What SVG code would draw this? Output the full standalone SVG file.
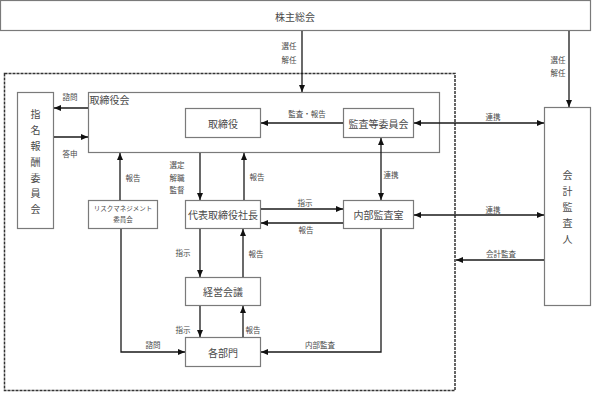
<svg xmlns="http://www.w3.org/2000/svg" width="600" height="399" viewBox="0 0 600 399">
<defs>
<style>
.box{fill:#fff;stroke:#7a7a7a;stroke-width:1.2}
.t{font-family:"Noto Sans CJK JP","Noto Sans CJK SC",sans-serif;fill:#4a4a4a;text-anchor:middle;dominant-baseline:central}
.big{font-size:10px}
.sm{font-size:7.5px}
.xs{font-size:6.5px}
.c{fill:none;stroke:#1a1a1a;stroke-width:1.3}
.dash{fill:none;stroke:#333;stroke-width:1.5;stroke-dasharray:3 1}
</style>
<marker id="ah" markerUnits="userSpaceOnUse" markerWidth="8" markerHeight="7" refX="7" refY="3" orient="auto-start-reverse">
<path d="M0,0 L7,3 L0,6 z" fill="#111"/>
</marker>
</defs>
<rect width="600" height="399" fill="#fff"/>
<rect class="dash" x="4.5" y="73.5" width="450.5" height="317"/>

<g id="n-kabunushi"><rect class="box" x="0.5" y="0.5" width="590" height="30"/><text class="t big" x="295" y="16">株主総会</text></g>
<g id="n-shimei"><rect class="box" x="17.5" y="92.5" width="36" height="136"/>
<text class="t big" x="35.5" y="113">指</text><text class="t big" x="35.5" y="129">名</text><text class="t big" x="35.5" y="145">報</text><text class="t big" x="35.5" y="161">酬</text><text class="t big" x="35.5" y="177">委</text><text class="t big" x="35.5" y="192">員</text><text class="t big" x="35.5" y="208">会</text></g>
<g id="n-torishimariyakukai"><rect class="box" x="88.5" y="92.5" width="351" height="60"/><text class="t big" x="89.5" y="99" style="text-anchor:start">取締役会</text></g>
<g id="n-torishimariyaku"><rect class="box" x="185.5" y="108.5" width="75" height="29"/><text class="t big" x="223" y="123">取締役</text></g>
<g id="n-kansa"><rect class="box" x="343.5" y="108.5" width="70" height="29"/><text class="t big" x="378.5" y="123">監査等委員会</text></g>
<g id="n-kaikei"><rect class="box" x="544.5" y="107.5" width="46" height="198"/>
<text class="t big" x="567.5" y="174">会</text><text class="t big" x="567.5" y="190">計</text><text class="t big" x="567.5" y="206">監</text><text class="t big" x="567.5" y="222">査</text><text class="t big" x="567.5" y="238">人</text></g>
<g id="n-risk"><rect class="box" x="88.5" y="200.5" width="69" height="28"/><text class="t xs" x="123" y="208">リスクマネジメント</text><text class="t xs" x="123" y="219">委員会</text></g>
<g id="n-daihyo"><rect class="box" x="185.5" y="200.5" width="75" height="28"/><text class="t big" x="223" y="214.5">代表取締役社長</text></g>
<g id="n-naibu"><rect class="box" x="343.5" y="200.5" width="70" height="28"/><text class="t big" x="378.5" y="214.5">内部監査室</text></g>
<g id="n-keiei"><rect class="box" x="185.5" y="277.5" width="75" height="28"/><text class="t big" x="223" y="291.5">経営会議</text></g>
<g id="n-kakubumon"><rect class="box" x="185.5" y="337.5" width="75" height="29"/><text class="t big" x="223" y="352">各部門</text></g>

<g id="connectors">
<path class="c" d="M302,31 V92" marker-end="url(#ah)"/>
<path class="c" d="M569,31 V107" marker-end="url(#ah)"/>
<path class="c" d="M88,108 H54" marker-end="url(#ah)"/>
<path class="c" d="M54,137 H88" marker-end="url(#ah)"/>
<path class="c" d="M343,123 H261" marker-end="url(#ah)"/>
<path class="c" d="M414,123 H544" marker-start="url(#ah)" marker-end="url(#ah)"/>
<path class="c" d="M381,138 V200" marker-start="url(#ah)" marker-end="url(#ah)"/>
<path class="c" d="M414,215 H544" marker-start="url(#ah)" marker-end="url(#ah)"/>
<path class="c" d="M544,260 H456" marker-end="url(#ah)"/>
<path class="c" d="M200,153 V200" marker-end="url(#ah)"/>
<path class="c" d="M244,200 V153" marker-end="url(#ah)"/>
<path class="c" d="M120,200 V153" marker-end="url(#ah)"/>
<path class="c" d="M261,209 H343" marker-end="url(#ah)"/>
<path class="c" d="M343,223 H261" marker-end="url(#ah)"/>
<path class="c" d="M200,229 V277" marker-end="url(#ah)"/>
<path class="c" d="M243,277 V229" marker-end="url(#ah)"/>
<path class="c" d="M200,306 V337" marker-end="url(#ah)"/>
<path class="c" d="M243,337 V306" marker-end="url(#ah)"/>
<path class="c" d="M121,229 V352 H185" marker-end="url(#ah)"/>
<path class="c" d="M381,229 V352 H261" marker-end="url(#ah)"/>
</g>

<g id="labels">
<text class="t sm" x="289" y="45">選任</text>
<text class="t sm" x="289" y="59">解任</text>
<text class="t sm" x="558" y="59">選任</text>
<text class="t sm" x="558" y="72">解任</text>
<text class="t sm" x="70" y="96">諮問</text>
<text class="t sm" x="70" y="153">答申</text>
<text class="t sm" x="307" y="113">監査・報告</text>
<text class="t sm" x="493" y="116">連携</text>
<text class="t sm" x="391" y="174">連携</text>
<text class="t sm" x="493" y="209">連携</text>
<text class="t sm" x="501" y="253">会計監査</text>
<text class="t sm" x="177" y="164">選定</text>
<text class="t sm" x="177" y="177">解職</text>
<text class="t sm" x="177" y="189">監督</text>
<text class="t sm" x="257" y="176">報告</text>
<text class="t sm" x="133" y="177">報告</text>
<text class="t sm" x="305" y="202">指示</text>
<text class="t sm" x="306" y="229">報告</text>
<text class="t sm" x="183" y="252">指示</text>
<text class="t sm" x="256" y="253">報告</text>
<text class="t sm" x="183" y="329">指示</text>
<text class="t sm" x="253" y="329">報告</text>
<text class="t sm" x="153" y="344">諮問</text>
<text class="t sm" x="320" y="344">内部監査</text>
</g>
</svg>
